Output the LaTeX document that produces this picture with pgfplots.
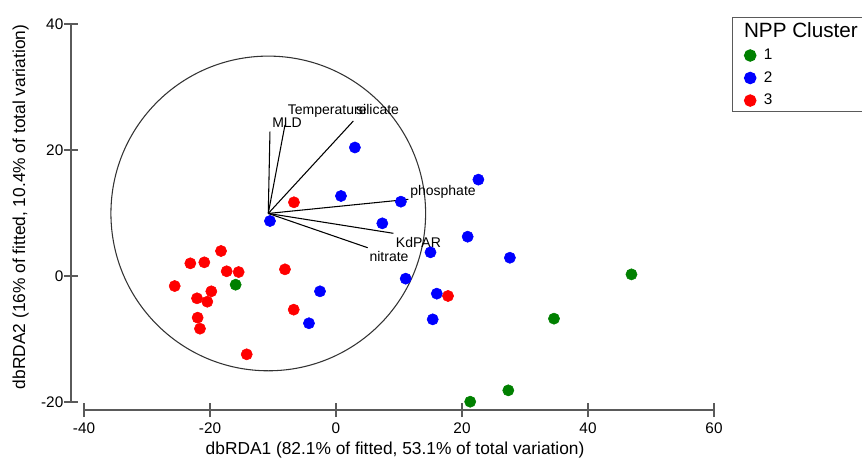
\documentclass[border=0pt]{standalone}
\usepackage{fontspec}
\setmainfont{Liberation Sans}
\usepackage{pgfplots}
\pgfplotsset{compat=1.18}
\usepackage{pgfplotstable}
\definecolor{cgreen}{RGB}{0,128,0}
\definecolor{cblue}{RGB}{0,0,255}
\definecolor{cred}{RGB}{255,0,0}
\definecolor{axgray}{RGB}{90,90,90}

\pgfplotstableread{
x y
-15.93 -1.38
46.9 0.26
34.6 -6.77
27.35 -18.15
21.3 -19.95
}\clusterA

\pgfplotstableread{
x y
-10.48 8.73
3.0 20.4
0.79 12.7
10.3 11.8
7.35 8.36
22.6 15.3
20.9 6.24
15.0 3.76
27.6 2.9
11.06 -0.42
-2.54 -2.43
16.0 -2.8
-4.29 -7.5
15.35 -6.88
}\clusterB

\pgfplotstableread{
x y
-18.25 3.97
-23.12 2.01
-20.9 2.17
-17.35 0.75
-15.45 0.63
-8.1 1.06
-25.6 -1.59
-19.79 -2.43
-22.06 -3.54
-20.43 -4.08
-21.96 -6.61
-21.59 -8.36
-14.17 -12.43
-6.71 -5.34
-6.67 11.7
17.78 -3.17
}\clusterC

\begin{document}
\begin{tikzpicture}
\begin{axis}[
  x=4.725pt, y=4.725pt,
  xmin=-42.06, xmax=60, ymin=-21.27, ymax=40,
  axis line style={draw=none},
  clip=false,
  tick pos=left, tick align=center,
  major tick length=10.5pt,
  tick style={axgray, line width=1.1pt},
  xtick={-40,-20,0,20,40,60}, xticklabels={-40,-20,0,20,40,60},
  ytick={-20,0,20,40}, yticklabels={-20,0,20,40},
  ticklabel style={font=\fontsize{11.5}{13}\selectfont},
  yticklabel style={xshift=3pt},
  xticklabel style={yshift=-1pt},
  xlabel={dbRDA1 (82.1\% of fitted, 53.1\% of total variation)},
  ylabel={dbRDA2 (16\% of fitted, 10.4\% of total variation)},
  xlabel style={at={(axis description cs:0.504,-0.114)}, anchor=base, font=\fontsize{13}{15}\selectfont},
  ylabel style={at={(axis description cs:-0.0715,0.526)}, anchor=base, font=\fontsize{13}{15}\selectfont},
  legend style={
    at={(axis description cs:1.028,1.018)}, anchor=north west,
    draw=axgray, line width=1pt,
    inner xsep=4.6pt, inner ysep=3.5pt,
    font=\fontsize{11.5}{13}\selectfont,
    cells={anchor=west},
    row sep=7.4pt, column sep=6pt,
    nodes={inner sep=0pt},
  },
]
\addlegendimage{empty legend}
\addlegendentry{\hspace*{-14.8pt}\fontsize{15.5}{18}\selectfont NPP Cluster}

% correlation circle and vectors
\draw[black!80, line width=0.8pt] (axis cs:-10.75,9.93) circle [radius=118.0pt];
\addplot[forget plot, black, line width=0.8pt] coordinates {(-10.75,9.93) (-10.48,22.9)};
\addplot[forget plot, black, line width=0.8pt] coordinates {(-10.75,9.93) (-8.1,23.97)};
\addplot[forget plot, black, line width=0.8pt] coordinates {(-10.75,9.93) (2.75,24.6)};
\addplot[forget plot, black, line width=0.8pt] coordinates {(-10.75,9.93) (11.48,12.17)};
\addplot[forget plot, black, line width=0.8pt] coordinates {(-10.75,9.93) (9.1,6.78)};
\addplot[forget plot, black, line width=0.8pt] coordinates {(-10.75,9.93) (5.03,4.49)};
\begin{scope}[every node/.style={font=\fontsize{10.5}{12}\selectfont, anchor=base west, inner sep=0pt}]
\node at (axis cs:-10.16,23.5) {MLD};
\node at (axis cs:-7.67,25.56) {Temperature};
\node at (axis cs:3.17,25.56) {silicate};
\node at (axis cs:11.75,12.75) {phosphate};
\node at (axis cs:9.48,4.56) {KdPAR};
\node at (axis cs:5.29,2.27) {nitrate};
\end{scope}

\addplot[only marks, mark=*, mark size=4.2pt, draw=cgreen, fill=cgreen] table {\clusterA};
\addlegendentry{1}
\addplot[only marks, mark=*, mark size=4.2pt, draw=cblue, fill=cblue] table {\clusterB};
\addlegendentry{2}
\addplot[only marks, mark=*, mark size=4.2pt, draw=cred, fill=cred] table {\clusterC};
\addlegendentry{3}

% axis lines (detached, as in the reference)
\draw[axgray, line width=1.1pt] (axis cs:-40,-21.27) -- (axis cs:60,-21.27);
\draw[axgray, line width=1.1pt] (axis cs:-42.06,-20) -- (axis cs:-42.06,40);

\coordinate (bbBL) at (axis cs:-53.33,-28.73);
\coordinate (bbTR) at (axis cs:83.49,43.81);
\end{axis}
\pgfresetboundingbox
\useasboundingbox (bbBL) rectangle (bbTR);
\end{tikzpicture}
\end{document}
